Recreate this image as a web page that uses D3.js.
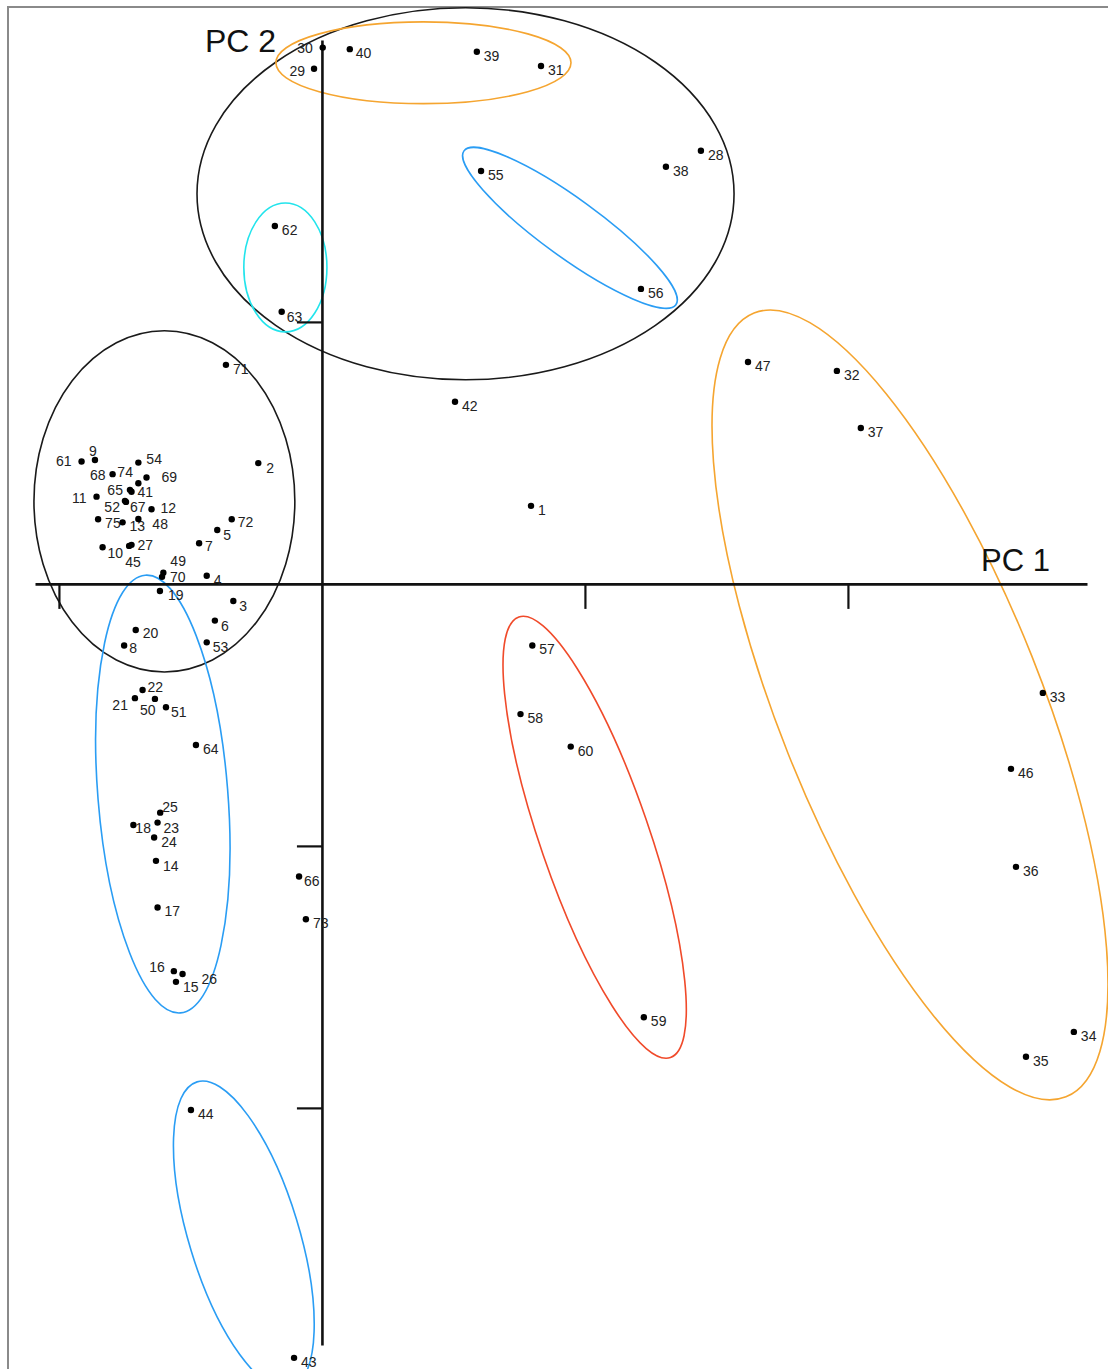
<!DOCTYPE html>
<html>
<head>
<meta charset="utf-8">
<script src="https://cdn.jsdelivr.net/npm/d3@7/dist/d3.min.js"></script>
<style>
  html, body { margin: 0; padding: 0; background: #fff; }
  svg { display: block; }
  text { font-family: "Liberation Sans", Arial, sans-serif; }
</style>
</head>
<body>
<svg id="chart" width="1108" height="1369"></svg>
<script>
// Sample identifiers and their scores on the first two principal components
const ids = d3.range(1, 76);
const pc1 = [
  0.795, -0.242, -0.337, -0.438, -0.398, -0.407, -0.467, -0.752, -0.863, -0.834,
  -0.857, -0.648, -0.758, -0.631, -0.555, -0.563, -0.625, -0.717, -0.616, -0.708,
  -0.711, -0.682, -0.625, -0.638, -0.615, -0.530, -0.724, 1.441, -0.030, 0.003,
  0.833, 1.958, 2.741, 2.859, 2.677, 2.639, 2.049, 1.308, 0.589, 0.106,
  -0.724, 0.506, -0.106, -0.498, -0.733, 2.620, 1.620, -0.698, -0.603, -0.635,
  -0.593, -0.749, -0.438, -0.698, 0.605, 1.213, 0.800, 0.755, 1.224, 0.946,
  -0.914, -0.179, -0.153, -0.479, -0.730, -0.087, -0.745, -0.796, -0.667, -0.608,
  -0.365, -0.343, -0.061, -0.698, -0.851
];
const pc2 = [
  0.298, 0.461, -0.065, 0.031, 0.206, -0.140, 0.155, -0.235, 0.473, 0.140,
  0.333, 0.285, 0.235, -1.057, -1.519, -1.478, -1.235, -0.920, -0.027, -0.176,
  -0.436, -0.405, -0.911, -0.968, -0.873, -1.489, 0.149, 1.653, 1.966, 2.047,
  1.977, 0.813, -0.416, -1.710, -1.805, -1.080, 0.595, 1.592, 2.031, 2.041,
  0.352, 0.695, -2.954, -2.008, 0.145, -0.706, 0.847, 0.248, 0.043, -0.439,
  -0.471, 0.317, -0.223, 0.463, 1.576, 1.126, -0.235, -0.497, -1.654, -0.621,
  0.467, 1.366, 1.039, -0.615, 0.359, -1.117, 0.313, 0.419, 0.406, 0.027,
  0.836, 0.247, -1.280, 0.384, 0.247
];

// Axis tick positions (unlabelled ticks)
const pc1Ticks = [-1, 1, 2];
const pc2Ticks = [1, -1, -2];
const axisTitles = ["PC 1", "PC 2"];

// Grouping ellipses in PC units: centre, semi-axes, rotation (degrees)
const groupCx    = [0.546, 0.386, 0.943, -0.139, -0.599, -0.605, 1.037, 2.236, -0.297];
const groupCy    = [1.489, 1.989, 1.359, 1.208, 0.315, -0.802, -0.967, -0.462, -2.485];
const groupRx    = [1.021, 0.561, 0.498, 0.158, 0.496, 0.247, 0.207, 0.499, 0.209];
const groupRy    = [0.710, 0.156, 0.111, 0.246, 0.651, 0.838, 0.889, 1.610, 0.611];
const groupAngle = [0, 0, 36, 0, 0, -4.6, -19, -21.7, -17];
const groupColor = ["#1a1a1a", "#f5a530", "#2a9df4", "#22e4ec", "#1a1a1a",
                    "#2a9df4", "#f04a2a", "#f5a530", "#2a9df4"];

// Label placement tweaks [dx, dy, anchor] where the default would collide
const labelPlacement = {
  61: [-10, 4, "end"], 9: [-6, -4], 54: [8, 1], 68: [-7, 6, "end"], 74: [-21, -6],
  69: [15, 4], 65: [-7, 5, "end"], 41: [6, 5], 11: [-10, 6, "end"], 52: [-5, 11, "end"],
  67: [4, 10], 12: [9, 4], 48: [14, 10], 10: [5, 11], 27: [6, 5], 45: [-4, 21],
  49: [7, -7], 70: [8, 5], 7: [6, 8], 5: [6, 10], 72: [6, 8], 2: [8, 10],
  19: [8, 9], 3: [6, 10], 6: [6, 10], 20: [7, 8], 8: [5, 8], 53: [6, 10],
  22: [5, 2], 21: [-7, 12, "end"], 50: [-15, 16], 51: [5, 10], 25: [2, -1],
  18: [2, 8], 23: [6, 10], 14: [7, 10], 16: [-9, 1, "end"], 15: [7, 10],
  26: [19, 10], 66: [5, 9], 30: [-10, 5, "end"], 29: [-9, 7, "end"], 40: [6, 9],
  63: [5, 10]
};
const defaultPlacement = [7, 9, "start"];

const svg = d3.select("#chart");

const x = d3.scaleLinear().domain([-1.091, 2.909]).range([35, 1087]);
const y = d3.scaleLinear().domain([2.076, -2.905]).range([40, 1345]);
const kx = x(1) - x(0);
const ky = y(0) - y(1);

// Outer frame
svg.append("rect")
  .attr("x", 8).attr("y", 7).attr("width", 1130).attr("height", 1400)
  .attr("fill", "none").attr("stroke", "#8a8a8a").attr("stroke-width", 2);

// Group ellipses
const groups = d3.range(groupCx.length).map(i => ({
  cx: groupCx[i], cy: groupCy[i], rx: groupRx[i], ry: groupRy[i],
  angle: groupAngle[i], color: groupColor[i]
}));
svg.append("g").selectAll("ellipse").data(groups).join("ellipse")
  .attr("transform", d => `translate(${x(d.cx)},${y(d.cy)}) rotate(${d.angle})`)
  .attr("rx", d => d.rx * kx)
  .attr("ry", d => d.ry * ky)
  .attr("fill", "none")
  .attr("stroke", d => d.color)
  .attr("stroke-width", 1.6);

// Axes crossing at the origin
const xAxis = d3.axisBottom(x).tickValues(pc1Ticks).tickFormat("").tickSize(25).tickSizeOuter(0);
const yAxis = d3.axisLeft(y).tickValues(pc2Ticks).tickFormat("").tickSize(25).tickSizeOuter(0);

const gx = svg.append("g").attr("transform", `translate(0,${y(0)})`).call(xAxis);
const gy = svg.append("g").attr("transform", `translate(${x(0)},0)`).call(yAxis);
[gx, gy].forEach(g => {
  g.select(".domain").attr("stroke", "#111").attr("stroke-width", 2.6);
  g.selectAll(".tick line").attr("stroke", "#111").attr("stroke-width", 2.2);
});

svg.append("text").attr("x", 981).attr("y", 571)
  .attr("font-size", 31).attr("fill", "#111").text(axisTitles[0]);
svg.append("text").attr("x", 205).attr("y", 52)
  .attr("font-size", 32).attr("fill", "#111").text(axisTitles[1]);

// Sample points and their labels
const points = ids.map((id, i) => ({ id, pc1: pc1[i], pc2: pc2[i] }));

svg.append("g").selectAll("text").data(points).join("text")
  .attr("x", d => x(d.pc1) + (labelPlacement[d.id] || defaultPlacement)[0])
  .attr("y", d => y(d.pc2) + (labelPlacement[d.id] || defaultPlacement)[1])
  .attr("text-anchor", d => (labelPlacement[d.id] || defaultPlacement)[2] || "start")
  .attr("font-size", 14)
  .attr("fill", "#222")
  .text(d => d.id);

svg.append("g").selectAll("circle").data(points).join("circle")
  .attr("cx", d => x(d.pc1))
  .attr("cy", d => y(d.pc2))
  .attr("r", 3.2)
  .attr("fill", "#000");
</script>
</body>
</html>
